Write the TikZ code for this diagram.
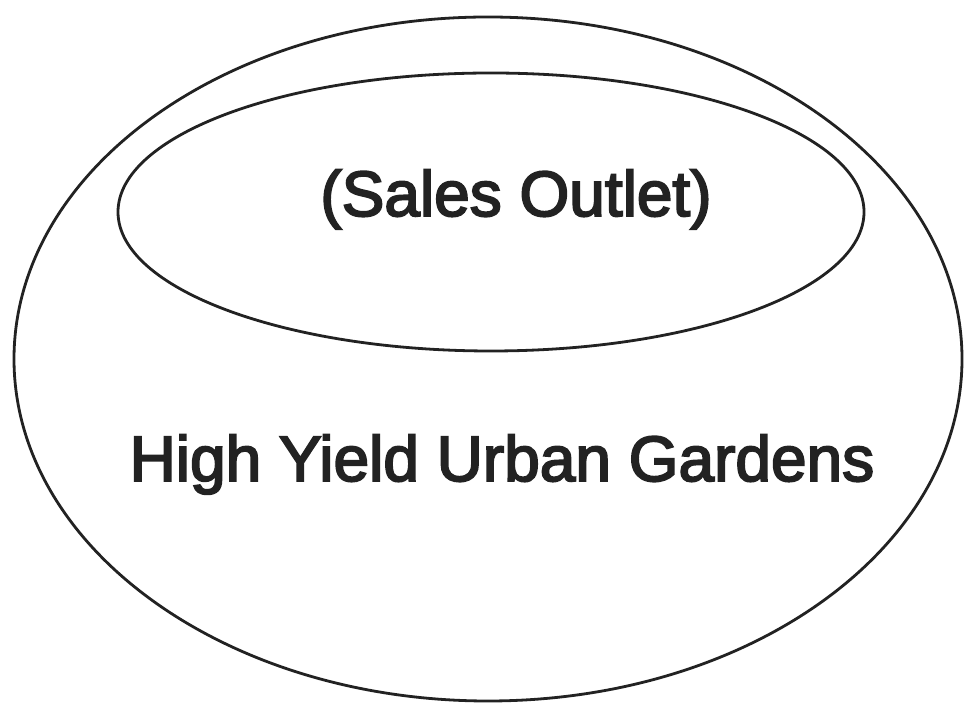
\documentclass[tikz,border=0pt]{standalone}
\usepackage{fontspec}
\setmainfont{Liberation Sans}
\newfontfamily\heavyfont{Liberation Sans}[FakeBold=3]
\usetikzlibrary{shapes.geometric}
\definecolor{inkc}{HTML}{222222}
\begin{document}
\begin{tikzpicture}[x=1pt,y=1pt,
  ring/.style={draw=inkc, line width=2.8pt, ellipse, inner sep=0pt},
  lbl/.style={anchor=base, inner sep=0pt, text=inkc, font=\heavyfont\fontsize{64}{64}\selectfont}]
\useasboundingbox[fill=white] (0,0) rectangle (968,711);
\node[ring, minimum width=948pt, minimum height=684pt] (outer) at (488,352) {};
\node[ring, minimum width=746pt, minimum height=278pt] (inner) at (491,499) {};
\node[lbl] (sales) at (516,495) {(Sales Outlet)};
\node[lbl] (garden) at (502,230) {High Yield Urban Gardens};
\end{tikzpicture}
\end{document}
